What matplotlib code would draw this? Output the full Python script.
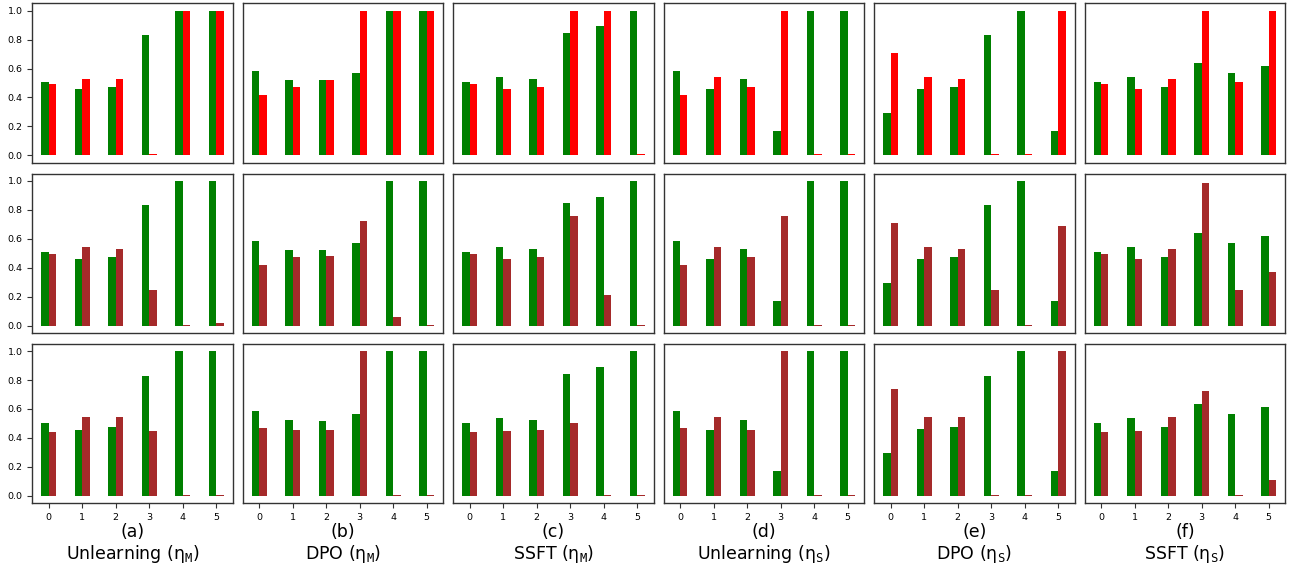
import matplotlib
matplotlib.use("Agg")
import matplotlib.pyplot as plt
import numpy as np

plt.rcParams['mathtext.fontset'] = 'dejavusans'

categories = [0, 1, 2, 3, 4, 5]
panel_labels = ["(a)\nUnlearning (η$_{\\mathtt{M}}$)",
                "(b)\nDPO (η$_{\\mathtt{M}}$)",
                "(c)\nSSFT (η$_{\\mathtt{M}}$)",
                "(d)\nUnlearning (η$_{\\mathtt{S}}$)",
                "(e)\nDPO (η$_{\\mathtt{S}}$)",
                "(f)\nSSFT (η$_{\\mathtt{S}}$)"]

# Row 1 (green vs red)
row1_green = [
    [0.507, 0.459, 0.472, 0.833, 1.0, 1.0],
    [0.583, 0.521, 0.521, 0.569, 1.0, 1.0],
    [0.507, 0.541, 0.528, 0.844, 0.892, 1.0],
    [0.583, 0.459, 0.528, 0.170, 1.0, 1.0],
    [0.294, 0.459, 0.472, 0.830, 1.0, 0.170],
    [0.507, 0.541, 0.472, 0.638, 0.569, 0.617],
]
row1_red = [
    [0.493, 0.528, 0.528, 0.008, 1.0, 1.0],
    [0.417, 0.472, 0.521, 1.0, 0.995, 1.0],
    [0.493, 0.459, 0.472, 1.0, 1.0, 0.008],
    [0.417, 0.541, 0.472, 1.0, 0.008, 0.008],
    [0.706, 0.541, 0.528, 0.008, 0.008, 1.0],
    [0.493, 0.459, 0.528, 1.0, 0.507, 0.995],
]

# Row 2 (green vs brown)
row2_green = [
    [0.507, 0.459, 0.472, 0.833, 1.0, 1.0],
    [0.583, 0.521, 0.521, 0.569, 1.0, 1.0],
    [0.507, 0.541, 0.528, 0.844, 0.892, 1.0],
    [0.583, 0.459, 0.528, 0.170, 1.0, 1.0],
    [0.294, 0.459, 0.472, 0.830, 1.0, 0.170],
    [0.507, 0.541, 0.472, 0.638, 0.569, 0.617],
]
row2_brown = [
    [0.493, 0.541, 0.528, 0.245, 0.007, 0.018],
    [0.417, 0.472, 0.479, 0.720, 0.060, 0.007],
    [0.493, 0.459, 0.472, 0.755, 0.211, 0.007],
    [0.417, 0.541, 0.472, 0.755, 0.007, 0.007],
    [0.706, 0.541, 0.528, 0.245, 0.007, 0.686],
    [0.493, 0.459, 0.528, 0.982, 0.245, 0.369],
]

# Row 3 (green vs brown)
row3_green = [
    [0.505, 0.456, 0.477, 0.828, 1.0, 1.0],
    [0.587, 0.525, 0.518, 0.567, 1.0, 1.0],
    [0.505, 0.539, 0.525, 0.842, 0.890, 1.0],
    [0.587, 0.456, 0.525, 0.174, 1.0, 1.0],
    [0.298, 0.463, 0.477, 0.828, 1.0, 0.174],
    [0.505, 0.539, 0.477, 0.635, 0.567, 0.615],
]
row3_brown = [
    [0.443, 0.546, 0.546, 0.450, 0.007, 0.007],
    [0.470, 0.456, 0.456, 1.0, 0.007, 0.007],
    [0.443, 0.450, 0.456, 0.505, 0.007, 0.007],
    [0.470, 0.546, 0.456, 1.0, 0.007, 0.007],
    [0.739, 0.546, 0.546, 0.007, 0.007, 1.0],
    [0.443, 0.450, 0.546, 0.725, 0.007, 0.112],
]

rows = [(row1_green, row1_red, 'red'),
        (row2_green, row2_brown, 'brown'),
        (row3_green, row3_brown, 'brown')]

fig, axes = plt.subplots(3, 6, figsize=(12.89, 5.69), dpi=100)
fig.subplots_adjust(left=0.025, right=0.997, top=0.994, bottom=0.116,
                    wspace=0.05, hspace=0.07)

x = np.arange(len(categories))
w = 0.22
for r, (greens, others, ocolor) in enumerate(rows):
    for c in range(6):
        ax = axes[r, c]
        ax.bar(x - w / 2, greens[c], width=w, color='green')
        ax.bar(x + w / 2, others[c], width=w, color=ocolor)
        ax.set_ylim(-0.05, 1.05)
        ax.set_xlim(-0.49, 5.49)
        ax.set_yticks([0.0, 0.2, 0.4, 0.6, 0.8, 1.0])
        ax.set_xticks(x)
        ax.set_xticklabels([str(v) for v in categories])
        ax.tick_params(labelsize=6.8, color='#333333')
        for s in ax.spines.values():
            s.set_color('#333333')
            s.set_linewidth(1.0)
        if c != 0:
            ax.tick_params(left=False, labelleft=False)
        if r != 2:
            ax.tick_params(bottom=False, labelbottom=False)
        else:
            ax.set_xlabel(panel_labels[c], fontsize=12.5, labelpad=1,
                          linespacing=1.1)

fig.savefig("out.png", dpi=100)
